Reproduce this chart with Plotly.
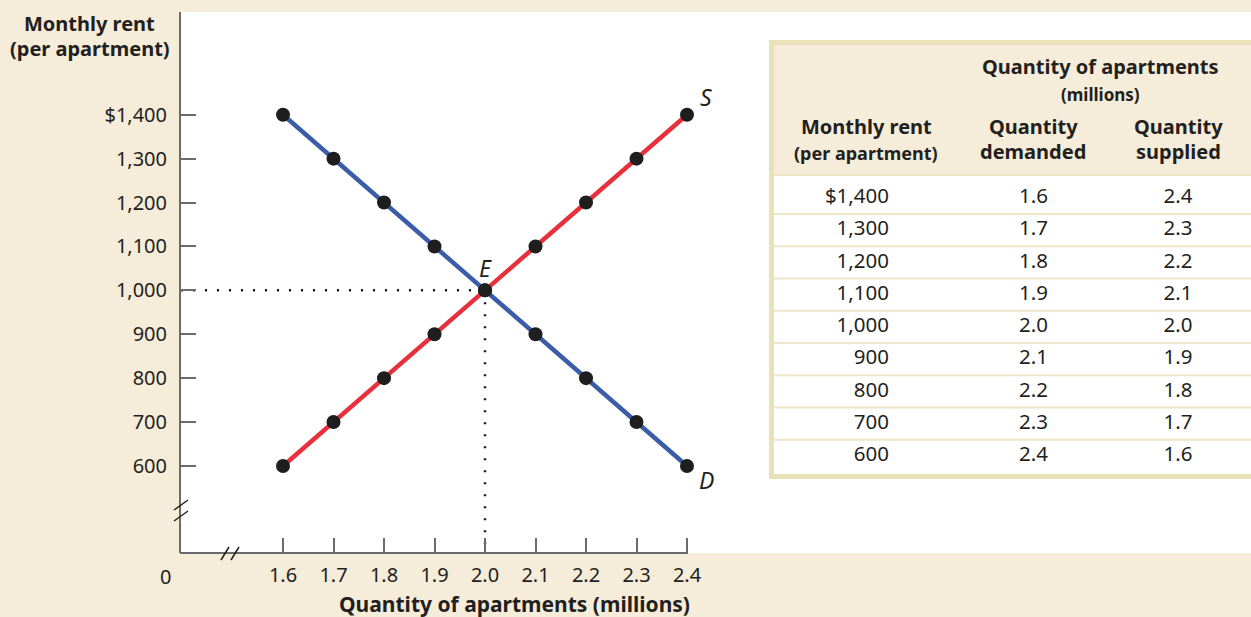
import plotly.graph_objects as go

# market for apartments: supply and demand schedule
rent = [1400, 1300, 1200, 1100, 1000, 900, 800, 700, 600]
rent_labels = ["$1,400", "1,300", "1,200", "1,100", "1,000", "900", "800", "700", "600"]
qty_demanded = [1.6, 1.7, 1.8, 1.9, 2.0, 2.1, 2.2, 2.3, 2.4]
qty_supplied = [2.4, 2.3, 2.2, 2.1, 2.0, 1.9, 1.8, 1.7, 1.6]
qty_ticks = [1.6, 1.7, 1.8, 1.9, 2.0, 2.1, 2.2, 2.3, 2.4]
eq_qty, eq_rent = 2.0, 1000

W, H = 1251, 617
L, T, B, R = 181, 12, 64, 0
PW, PH = W - L - R, H - T - B

BG = "#f5ecd9"
BORDER = "#e9e1b7"
RULE = "#eee6c6"
RED = "#e8303d"
BLUE = "#3b5ca8"
DOT = "#1e1e1e"
AXIS = "#6b6b6b"
TEXT = "#231f20"
FONT = "Noto Sans"

xr = [1.398, 3.5168]
yr = [401.8, 1634.0]
# table axes (x2: column anchors, y2: rows keyed by rent)
x2r = [-4.8997, 2.5051]
y2r = [299.2, 1976.7]


def px(x):
    return (x - L) / PW


def py(y):
    return (H - B - y) / PH


fig = go.Figure()

# dotted guides to equilibrium
fig.add_trace(go.Scatter(x=[xr[0], eq_qty], y=[eq_rent, eq_rent], mode="lines",
                         line=dict(color=DOT, width=2.5, dash="2px,10px"), hoverinfo="skip"))
fig.add_trace(go.Scatter(x=[eq_qty, eq_qty], y=[eq_rent, yr[0]], mode="lines",
                         line=dict(color=DOT, width=2.5, dash="2px,10px"), hoverinfo="skip"))

fig.add_trace(go.Scatter(x=qty_supplied, y=rent, mode="lines", line=dict(color=RED, width=4.5)))
fig.add_trace(go.Scatter(x=qty_demanded, y=rent, mode="lines", line=dict(color=BLUE, width=4.5)))
fig.add_trace(go.Scatter(x=qty_demanded + qty_supplied, y=rent + rent, mode="markers",
                         marker=dict(color=DOT, size=14)))

# table body
fig.add_trace(go.Scatter(x=[0] * len(rent), y=rent, text=rent_labels, mode="text",
                         textposition="middle left", textfont=dict(size=20.5, color=TEXT),
                         xaxis="x2", yaxis="y2"))
fig.add_trace(go.Scatter(x=[1] * len(rent), y=rent, text=[f"{q:.1f}" for q in qty_demanded],
                         mode="text", textposition="middle center",
                         textfont=dict(size=20.5, color=TEXT), xaxis="x2", yaxis="y2"))
fig.add_trace(go.Scatter(x=[2] * len(rent), y=rent, text=[f"{q:.1f}" for q in qty_supplied],
                         mode="text", textposition="middle center",
                         textfont=dict(size=20.5, color=TEXT), xaxis="x2", yaxis="y2"))

shapes = []
# x axis line up to the last tick
shapes.append(dict(type="line", xref="paper", yref="paper", x0=px(L - 1), x1=px(687 + 1),
                   y0=0, y1=0, line=dict(color=AXIS, width=2)))
# axis break marks
for dy in (0, 11):
    shapes.append(dict(type="line", xref="paper", yref="paper", x0=px(174), y0=py(510 + dy),
                       x1=px(188), y1=py(500 + dy), line=dict(color=TEXT, width=1.5)))
for dx in (0, 10):
    shapes.append(dict(type="line", xref="paper", yref="paper", x0=px(221 + dx), y0=py(560),
                       x1=px(229 + dx), y1=py(547), line=dict(color=TEXT, width=1.5)))

# table header background, rules, border
shapes.append(dict(type="rect", xref="paper", yref="paper", x0=px(772), x1=px(1260),
                   y0=py(174), y1=py(43), fillcolor=BG, line=dict(width=0), layer="below"))
shapes.append(dict(type="line", xref="paper", yref="paper", x0=px(772), x1=px(1260),
                   y0=py(175), y1=py(175), line=dict(color=RULE, width=2), layer="below"))
for r in rent[:-1]:
    shapes.append(dict(type="line", xref="paper", yref="y2", x0=px(772), x1=px(1260),
                       y0=r - 50, y1=r - 50, line=dict(color=RULE, width=2), layer="below"))
shapes.append(dict(type="rect", xref="paper", yref="paper", x0=px(771.5), x1=px(1262),
                   y0=py(476.5), y1=py(42.5), line=dict(color=BORDER, width=5)))

ann = []


def label(x, y, text, size=20, **kw):
    ann.append(dict(xref="paper", yref="paper", x=px(x), y=py(y), text=text, showarrow=False,
                    font=dict(size=size, color=TEXT, family=FONT), xanchor="center",
                    yanchor="middle", **kw))


label(90, 24, "<b>Monthly rent</b>", size=20)
label(90, 49, "<b>(per apartment)</b>", size=20)
label(514, 604, "<b>Quantity of apartments (millions)</b>", size=21)
label(165, 576, "0")
label(1100, 67, "<b>Quantity of apartments</b>")
label(1100, 94, "<b>(millions)</b>", size=17)
label(866, 126, "<b>Monthly rent</b>")
label(866, 153, "<b>(per apartment)</b>", size=18)
label(1033, 126, "<b>Quantity</b>")
label(1033, 152, "<b>demanded</b>")
label(1178, 126, "<b>Quantity</b>")
label(1178, 152, "<b>supplied</b>")

for text, x, y, dx, dy in [("S", qty_supplied[0], rent[0], 19, 18),
                           ("D", qty_demanded[-1], rent[-1], 19, -14),
                           ("E", eq_qty, eq_rent, 0, 22)]:
    ann.append(dict(x=x, y=y, text=f"<i>{text}</i>", showarrow=False, xshift=dx, yshift=dy,
                    font=dict(size=23, color=TEXT, family=FONT)))

fig.update_layout(
    width=W, height=H, margin=dict(l=L, r=R, t=T, b=B),
    paper_bgcolor=BG, plot_bgcolor="white", showlegend=False, hovermode=False,
    font=dict(family=FONT, size=20, color=TEXT),
    xaxis=dict(range=xr, tickvals=qty_ticks, ticktext=[f"{q:.1f}" for q in qty_ticks],
               ticks="inside", ticklen=15, tickwidth=2, tickcolor=AXIS, showline=False,
               showgrid=False, zeroline=False, ticklabelstandoff=8, fixedrange=True),
    yaxis=dict(range=yr, tickvals=rent, ticktext=rent_labels, ticks="inside", ticklen=15,
               tickwidth=2, tickcolor=AXIS, showline=True, linecolor=AXIS, linewidth=2,
               showgrid=False, zeroline=False, ticklabelstandoff=8, fixedrange=True),
    xaxis2=dict(range=x2r, overlaying="x", anchor="y2", visible=False),
    yaxis2=dict(range=y2r, overlaying="y", anchor="x2", visible=False),
    shapes=shapes, annotations=ann,
)

fig.write_html("out.html", config={"displayModeBar": False},
               post_script="document.body.style.margin='0';")
